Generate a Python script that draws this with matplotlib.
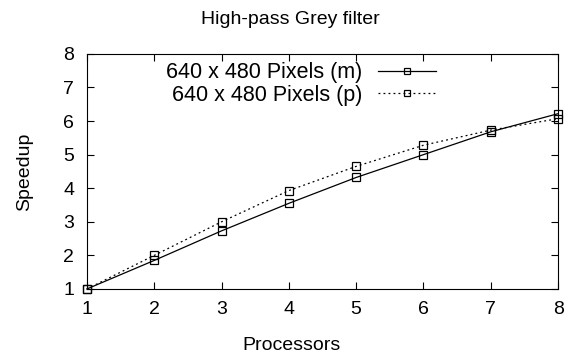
import matplotlib
matplotlib.use("Agg")
import matplotlib.pyplot as plt

plt.rcParams['font.family'] = ['Liberation Sans', 'DejaVu Sans']

processors = [1, 2, 3, 4, 5, 6, 7, 8]
speedup_m = [1.0, 1.85, 2.73, 3.55, 4.32, 5.0, 5.68, 6.22]
speedup_p = [1.0, 2.0, 3.0, 3.93, 4.65, 5.28, 5.73, 6.07]
label_m = "640 x 480 Pixels (m)"
label_p = "640 x 480 Pixels (p)"

fig = plt.figure(figsize=(5.79, 3.59), dpi=100)
ax = fig.add_axes([0.150, 0.195, 0.814, 0.655])
ax.plot(processors, speedup_m, color='black', lw=0.9, marker='s', ms=5.5,
        mfc='none', mec='black', mew=0.9, label=label_m, clip_on=False)
ax.plot(processors, speedup_p, color='black', lw=0.9, ls=(0, (1.5, 2.5)), marker='s', ms=5.5,
        mfc='none', mec='black', mew=0.9, label=label_p, clip_on=False)
ax.set_xlim(1, 8)
ax.set_ylim(1, 8)
ax.set_xticks(range(1, 9))
ax.set_yticks(range(1, 9))
ax.tick_params(direction='in', top=True, right=True, labelsize=14, length=5)
ax.tick_params(axis='x', pad=9)
ax.tick_params(axis='y', pad=9)
ax.set_xlabel("Processors", fontsize=14)
ax.xaxis.set_label_coords((292 - 87) / 471, -(345 - 289) / 235)
ax.set_ylabel("Speedup", fontsize=14)
ax.yaxis.set_label_coords(-(87 - 25) / 471, 0.5)
for lab in (ax.xaxis.label, ax.yaxis.label):
    lab.set_va('center')
fig.text(290 / 579, 1 - 20 / 359, "High-pass Grey filter", fontsize=14,
         ha='center', va='center')
leg = ax.legend(loc='upper right', bbox_to_anchor=((437 + 8 - 87) / 471, 1.0), frameon=False,
                markerfirst=False, fontsize=15.5, handlelength=2.7, labelspacing=0.05,
                borderaxespad=0.0, handletextpad=0.75, markerscale=0.8)
for t in leg.get_texts():
    t.set_ha('right')
fig.savefig("out.png", dpi=100)
